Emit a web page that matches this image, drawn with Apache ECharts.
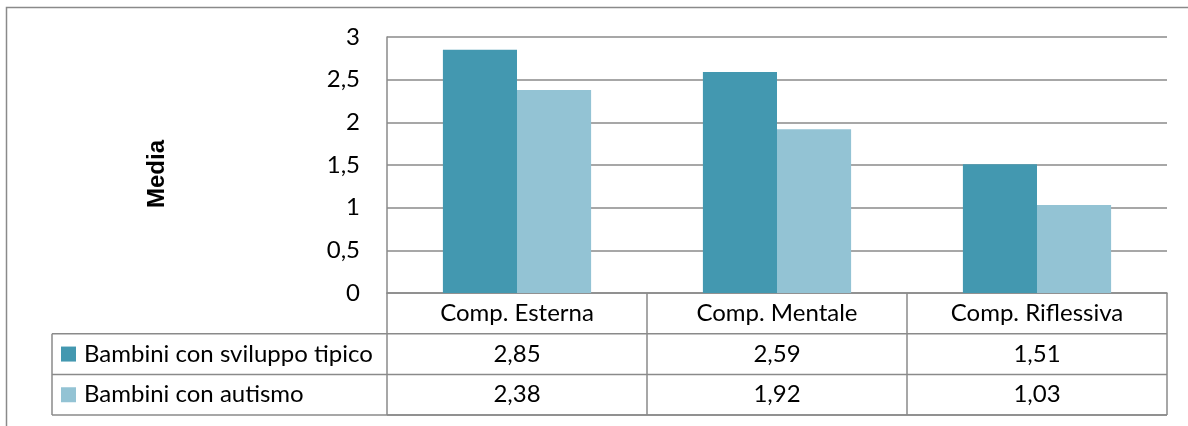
<!DOCTYPE html>
<html>
<head>
<meta charset="utf-8">
<script src="https://cdn.jsdelivr.net/npm/echarts@6/dist/echarts.min.js"></script>
<style>
  html, body { margin: 0; padding: 0; background: #fff; }
  #chart { width: 1188px; height: 426px; }
</style>
</head>
<body>
<div id="chart"></div>
<script>
// Mean scores per component, two groups of children
const categories = ['Comp. Esterna', 'Comp. Mentale', 'Comp. Riflessiva'];
const seriesNames = ['Bambini con sviluppo tipico', 'Bambini con autismo'];
const tipico = [2.85, 2.59, 1.51];
const autismo = [2.38, 1.92, 1.03];
const seriesColors = ['#4398B0', '#93C3D4'];
const axisTitle = 'Media';

const FONT = 'Lato, "Open Sans", sans-serif';
const FONT_SIZE = 24;
const GRID_COLOR = '#8a8a8a';
const fmt = v => String(v).replace('.', ',');
const fmt2 = v => v.toFixed(2).replace('.', ',');

const chart = echarts.init(document.getElementById('chart'), null, { renderer: 'canvas' });

const option = {
  animation: false,
  backgroundColor: '#fff',
  grid: { left: 387, right: 21, top: 37, bottom: 133, containLabel: false },
  xAxis: {
    type: 'category',
    data: categories,
    axisLine: { show: true, lineStyle: { color: GRID_COLOR, width: 1.5 } },
    axisTick: { show: false },
    axisLabel: { show: false }
  },
  yAxis: {
    type: 'value',
    min: 0, max: 3, interval: 0.5,
    axisLine: { show: true, lineStyle: { color: GRID_COLOR, width: 1.5 } },
    axisTick: { show: false },
    splitLine: { show: true, lineStyle: { color: GRID_COLOR, width: 1.5 } },
    axisLabel: {
      formatter: v => fmt(v),
      color: '#000', fontFamily: FONT, fontSize: FONT_SIZE, margin: 27
    }
  },
  series: [
    { name: seriesNames[0], type: 'bar', data: tipico, itemStyle: { color: seriesColors[0] },
      barGap: '0%', barCategoryGap: '43%' },
    { name: seriesNames[1], type: 'bar', data: autismo, itemStyle: { color: seriesColors[1] },
      barGap: '0%', barCategoryGap: '43%' }
  ]
};
chart.setOption(option);

// Data table under the plot, aligned to the category bands
function buildTable() {
  const centers = categories.map((c, i) => chart.convertToPixel({ xAxisIndex: 0 }, i));
  const band = centers[1] - centers[0];
  const x0 = centers[0] - band / 2;
  const xEnd = centers[centers.length - 1] + band / 2;
  const yTop = chart.convertToPixel({ yAxisIndex: 0 }, 0);
  const rowH = 40.7;
  const rows = [yTop, yTop + rowH, yTop + 2 * rowH, yTop + 3 * rowH];
  const leftX = 52;
  const lineStyle = { stroke: GRID_COLOR, lineWidth: 1.5 };
  const els = [];

  // outer chart border
  els.push({ type: 'rect', shape: { x: 6.5, y: 7.5, width: 1200, height: 440 },
    style: { fill: null, stroke: '#8a8a8a', lineWidth: 1.5 }, silent: true });

  // horizontal rules
  els.push({ type: 'line', shape: { x1: x0, y1: rows[3], x2: xEnd, y2: rows[3] }, style: lineStyle });
  for (let r = 1; r <= 3; r++) {
    els.push({ type: 'line', shape: { x1: leftX, y1: rows[r], x2: xEnd, y2: rows[r] }, style: lineStyle });
  }
  // vertical rules
  els.push({ type: 'line', shape: { x1: leftX, y1: rows[1], x2: leftX, y2: rows[3] }, style: lineStyle });
  for (let i = 0; i <= categories.length; i++) {
    const x = x0 + i * band;
    els.push({ type: 'line', shape: { x1: x, y1: rows[0], x2: x, y2: rows[3] }, style: lineStyle });
  }

  const textEl = (t, x, y, align) => ({
    type: 'text', x, y,
    style: { text: t, fontSize: FONT_SIZE, fontFamily: FONT, fill: '#000', align, verticalAlign: 'middle' }
  });

  // category header row
  categories.forEach((c, i) => els.push(textEl(c, centers[i], (rows[0] + rows[1]) / 2, 'center')));

  // series rows: legend key, name and values
  [tipico, autismo].forEach((vals, s) => {
    const yMid = (rows[s + 1] + rows[s + 2]) / 2;
    els.push({ type: 'rect', shape: { x: 61, y: yMid - 7.5, width: 15, height: 15 },
      style: { fill: seriesColors[s] } });
    els.push(textEl(seriesNames[s], 84, yMid, 'left'));
    vals.forEach((v, i) => els.push(textEl(fmt2(v), centers[i], yMid, 'center')));
  });

  // vertical axis title
  els.push({ type: 'text', x: 157, y: 174, rotation: Math.PI / 2,
    style: { text: axisTitle, fontSize: 24, fontWeight: 'bold',
      fontFamily: '"Liberation Sans", Arial, sans-serif',
      fill: '#000', align: 'center', verticalAlign: 'middle' } });

  chart.setOption({ graphic: { elements: els } });
}
buildTable();
</script>
</body>
</html>
